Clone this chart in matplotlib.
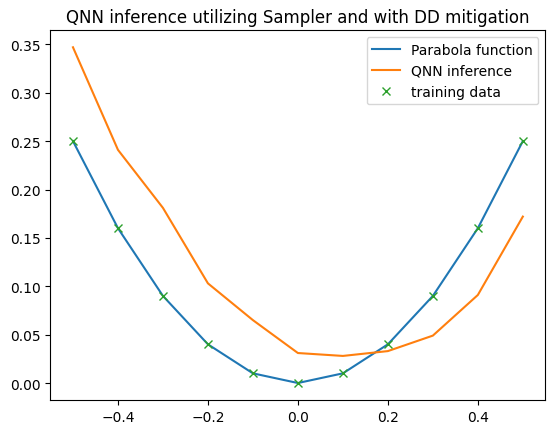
import matplotlib
matplotlib.use("Agg")
import matplotlib.pyplot as plt

# x grid and values
x_vals = [-0.5, -0.4, -0.3, -0.2, -0.1, 0.0, 0.1, 0.2, 0.3, 0.4, 0.5]
parabola = [0.25, 0.16, 0.09, 0.04, 0.01, 0.0, 0.01, 0.04, 0.09, 0.16, 0.25]
qnn_pred = [0.347, 0.241, 0.181, 0.103, 0.065, 0.031, 0.028, 0.033, 0.049, 0.091, 0.172]
train_y = [0.25, 0.16, 0.09, 0.04, 0.01, 0.0, 0.01, 0.04, 0.09, 0.16, 0.25]

fig = plt.figure(figsize=(5.56, 4.35), dpi=100)
ax = fig.add_axes([0.0908, 0.0786, 0.890, 0.849])

ax.plot(x_vals, parabola, label="Parabola function")
ax.plot(x_vals, qnn_pred, label="QNN inference")
ax.plot(x_vals, train_y, "x", label="training data")

ax.set_title("QNN inference utilizing Sampler and with DD mitigation")
ax.legend()

fig.savefig("out.png", dpi=100)
